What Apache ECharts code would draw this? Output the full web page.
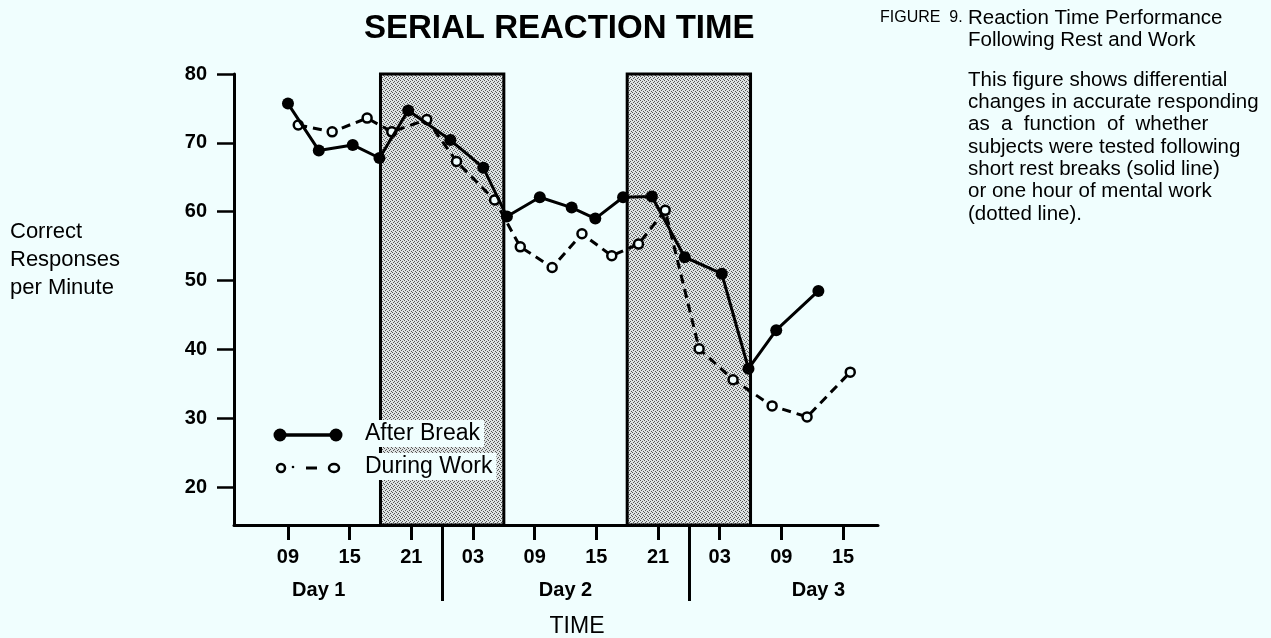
<!DOCTYPE html>
<html>
<head>
<meta charset="utf-8">
<script src="https://cdn.jsdelivr.net/npm/echarts@6/dist/echarts.min.js"></script>
<style>
    html, body { margin: 0; padding: 0; background: #f0fefe; }
    #main { width: 1271px; height: 638px; }
</style>
</head>
<body>
<div id="main"></div>
<script>
// time in hours, counted from midnight before Day 1
var afterBreakHours = [9, 12, 15.3, 17.9, 20.7, 24.8, 28, 30.3, 33.5, 36.6, 38.9, 41.6, 44.4, 47.6, 51.2, 53.8, 56.5, 60.6];
var afterBreakValues = [75.7, 68.9, 69.7, 67.8, 74.7, 70.4, 66.4, 59.3, 62.1, 60.6, 59.0, 62.1, 62.2, 53.4, 51.0, 37.2, 42.8, 48.5];
var duringWorkHours = [10, 13.3, 16.7, 19.1, 22.5, 25.4, 29.1, 31.6, 34.7, 37.6, 40.5, 43.1, 45.7, 49.0, 52.3, 56.1, 59.5, 63.7];
var duringWorkValues = [72.6, 71.6, 73.6, 71.6, 73.4, 67.3, 61.7, 54.9, 51.9, 56.8, 53.6, 55.3, 60.2, 40.1, 35.6, 31.8, 30.2, 36.7];

var tickHours = [9, 15, 21, 27, 33, 39, 45, 51, 57, 63];
var tickLabels = ['09', '15', '21', '03', '09', '15', '21', '03', '09', '15'];
var dayHours = [12, 36, 60.6];
var dayLabels = ['Day 1', 'Day 2', 'Day 3'];
var dayBreaks = [24, 48];
var restPeriods = [[18, 30], [42, 54]];
var yTicks = [20, 30, 40, 50, 60, 70, 80];

var BG = '#f0fefe';
var FONT = "'Liberation Sans', Arial, Helvetica, sans-serif";

function pairs(xs, ys) {
    var out = [];
    for (var i = 0; i < xs.length; i++) {
        out.push([xs[i], ys[i]]);
    }
    return out;
}

// stipple fill for the rest periods
var pat = document.createElement('canvas');
pat.width = 4;
pat.height = 4;
var ctx = pat.getContext('2d');
ctx.fillStyle = '#dde3e3';
ctx.fillRect(0, 0, 4, 4);
ctx.fillStyle = '#555555';
[[0, 0], [2, 1], [1, 2], [3, 3]].forEach(function(p) {
    ctx.fillRect(p[0], p[1], 1, 1);
});

var myChart = echarts.init(document.getElementById('main'));

var option = {
    backgroundColor: BG,
    animation: false,
    textStyle: { fontFamily: FONT, color: '#000' },
    title: [{
            text: 'SERIAL REACTION TIME',
            left: 364,
            top: 12,
            padding: 0,
            textStyle: { fontSize: 33, fontWeight: 'bold', color: '#000', fontFamily: FONT }
        },
        {
            text: 'FIGURE  9.',
            left: 880,
            top: 10,
            padding: 0,
            textStyle: { fontSize: 16, fontWeight: 'normal', color: '#000', fontFamily: FONT }
        },
        {
            text: 'Reaction Time Performance\nFollowing Rest and Work',
            left: 968,
            top: 7,
            padding: 0,
            textStyle: { fontSize: 20.5, lineHeight: 22, fontWeight: 'normal', color: '#000', fontFamily: FONT }
        },
        {
            text: 'This figure shows differential\nchanges in accurate responding\nas  a  function  of  whether\nsubjects were tested following\nshort rest breaks (solid line)\nor one hour of mental work\n(dotted line).',
            left: 968,
            top: 69,
            padding: 0,
            textStyle: { fontSize: 20.5, lineHeight: 22.3, fontWeight: 'normal', color: '#000', fontFamily: FONT }
        },
        {
            text: 'Correct\nResponses\nper Minute',
            left: 10,
            top: 218,
            padding: 0,
            textStyle: { fontSize: 22, lineHeight: 28, fontWeight: 'normal', color: '#000', fontFamily: FONT }
        }
    ],
    grid: {
        left: 234,
        right: 393,
        top: 74,
        bottom: 113,
        outerBoundsMode: 'none'
    },
    xAxis: [{
            type: 'value',
            min: 3.75,
            max: 66.4,
            splitLine: { show: false },
            axisLine: { lineStyle: { color: '#000', width: 3 } },
            axisTick: {
                customValues: tickHours,
                length: 15,
                lineStyle: { color: '#000', width: 3 }
            },
            axisLabel: {
                customValues: tickHours,
                margin: 22,
                fontSize: 20,
                fontWeight: 'bold',
                color: '#000',
                formatter: function(v) {
                    return tickLabels[tickHours.indexOf(v)];
                }
            },
            name: 'TIME',
            nameLocation: 'middle',
            nameGap: 90,
            nameTextStyle: { fontSize: 23, color: '#000', padding: [0, 0, 0, 42] }
        },
        {
            type: 'value',
            position: 'bottom',
            min: 3.75,
            max: 66.4,
            splitLine: { show: false },
            axisLine: { show: false },
            axisTick: {
                customValues: dayBreaks,
                length: 76,
                lineStyle: { color: '#000', width: 3 }
            },
            axisLabel: {
                customValues: dayHours,
                margin: 55,
                fontSize: 20,
                fontWeight: 'bold',
                color: '#000',
                formatter: function(v) {
                    return dayLabels[dayHours.indexOf(v)];
                }
            }
        }
    ],
    yAxis: {
        type: 'value',
        min: 14.5,
        max: 80,
        splitLine: { show: false },
        axisLine: { lineStyle: { color: '#000', width: 3 } },
        axisTick: {
            customValues: yTicks,
            length: 17,
            lineStyle: { color: '#000', width: 2.5 }
        },
        axisLabel: {
            customValues: yTicks,
            margin: 27,
            fontSize: 20,
            fontWeight: 'bold',
            color: '#000'
        }
    },
    series: [{
            name: 'After Break',
            type: 'line',
            z: 4,
            data: pairs(afterBreakHours, afterBreakValues),
            symbol: 'circle',
            symbolSize: 12,
            itemStyle: { color: '#000' },
            lineStyle: { color: '#000', width: 3 },
            markArea: {
                silent: true,
                itemStyle: {
                    color: { image: pat, repeat: 'repeat' },
                    borderColor: '#000',
                    borderWidth: 3
                },
                data: restPeriods.map(function(r) {
                    return [{ xAxis: r[0] }, { xAxis: r[1] }];
                })
            }
        },
        {
            name: 'During Work',
            type: 'line',
            z: 3,
            data: pairs(duringWorkHours, duringWorkValues),
            symbol: 'circle',
            symbolSize: 9,
            itemStyle: { color: BG, borderColor: '#000', borderWidth: 2.5 },
            lineStyle: { color: '#000', width: 3, type: [9, 6] }
        }
    ],
    graphic: [
        // legend
        { type: 'line', z: 100, shape: { x1: 280, y1: 435, x2: 336, y2: 435 }, style: { stroke: '#000', lineWidth: 3.5 } },
        { type: 'circle', z: 101, shape: { cx: 280, cy: 435, r: 6.5 }, style: { fill: '#000' } },
        { type: 'circle', z: 101, shape: { cx: 336, cy: 435, r: 6.5 }, style: { fill: '#000' } },
        { type: 'circle', z: 101, shape: { cx: 281, cy: 468, r: 4 }, style: { fill: BG, stroke: '#000', lineWidth: 2.5 } },
        { type: 'circle', z: 101, shape: { cx: 293, cy: 467, r: 1.3 }, style: { fill: '#000' } },
        { type: 'line', z: 100, shape: { x1: 306, y1: 468, x2: 317, y2: 468 }, style: { stroke: '#000', lineWidth: 3 } },
        { type: 'ellipse', z: 101, shape: { cx: 334, cy: 468, rx: 5, ry: 4 }, style: { fill: BG, stroke: '#000', lineWidth: 2.5 } },
        {
            type: 'text', z: 100, left: 362, top: 420,
            style: { text: 'After Break', font: "23px 'Liberation Sans', Arial, sans-serif", fill: '#000', backgroundColor: BG, padding: [2, 4, 2, 3] }
        },
        {
            type: 'text', z: 100, left: 362, top: 453,
            style: { text: 'During Work', font: "23px 'Liberation Sans', Arial, sans-serif", fill: '#000', backgroundColor: BG, padding: [2, 4, 2, 3] }
        }
    ]
};

myChart.setOption(option);
</script>
</body>
</html>
